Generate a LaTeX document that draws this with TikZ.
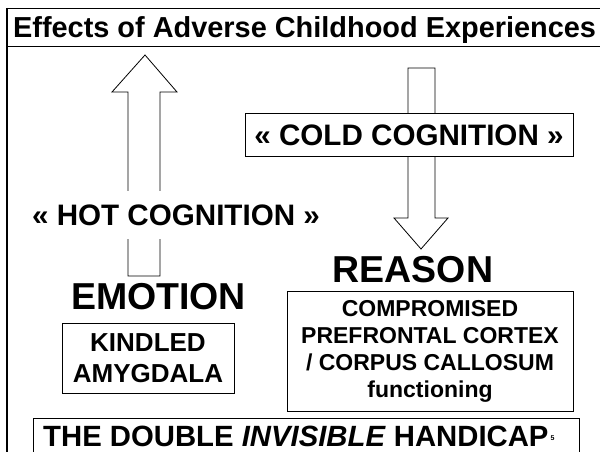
\documentclass[tikz,border=0pt]{standalone}
\usepackage{fontspec}
\setmainfont{Liberation Sans}
\begin{document}
\begin{tikzpicture}[x=1pt, y=-1pt,
  box/.style={draw, line width=0.9pt, fill=white, align=center, inner sep=0pt},
  bigword/.style={font=\bfseries\fontsize{37.5}{40}\selectfont, text height=26.8pt, text depth=0pt, inner sep=0pt},
  cogword/.style={font=\bfseries\fontsize{29.6}{32}\selectfont, text height=21.2pt, text depth=0pt},
  blockarrow/.style={draw, line width=0.8pt, fill=white}]
\useasboundingbox (0,0) rectangle (600,452);

% Title bar and left frame line
\node[draw, line width=1.2pt, anchor=north west, minimum width=594pt, minimum height=38pt, inner sep=0pt,
  font=\bfseries\fontsize{28.9}{30}\selectfont, text height=20.7pt, text depth=0pt] (title) at (7,8)
  {Effects of Adverse Childhood Experiences};
\draw[line width=2.2pt] (title.north west) -- (7,460);

% Block arrows (drawn first, the labels sit on top of them)
\draw[blockarrow] (128,276) -- (128,92) -- (112,92) -- (145,55) -- (177,92) -- (160,92) -- (160,276) -- cycle;
\draw[blockarrow] (408,68) -- (435,68) -- (435,218) -- (448,218) -- (421,249) -- (394,218) -- (408,218) -- cycle;

% Cognition labels
\node[cogword, fill=white, inner xsep=2pt, inner ysep=13pt] (hot) at (176,215) {« HOT COGNITION »};
\node[box, cogword, minimum width=328pt, minimum height=43pt] (cold) at (409,134.5) {« COLD COGNITION »};

% Emotion side
\node[bigword] (emotion) at (158.5,296.5) {EMOTION};
\node[box, minimum width=172pt, minimum height=70pt, font=\bfseries\fontsize{26}{31}\selectfont] (amygdala) at (148,358)
  {KINDLED\\AMYGDALA};

% Reason side
\node[bigword] (reason) at (413,269.5) {REASON};
\node[box, minimum width=286pt, minimum height=120pt, font=\bfseries\fontsize{23}{27}\selectfont] (cortex) at (430,351)
  {COMPROMISED\\PREFRONTAL CORTEX\\/ CORPUS CALLOSUM\\functioning};

% Bottom banner (runs off the page)
\node[anchor=base west, inner sep=0pt, font=\bfseries\fontsize{29.3}{31}\selectfont] (handicap) at (43,446.5)
  {THE DOUBLE \textit{INVISIBLE} HANDICAP\hspace{2pt}{\fontsize{7}{7}\selectfont\raisebox{6pt}{5}}};
\draw[line width=0.9pt] (33,460) |- (579,418) -- (579,460);
\end{tikzpicture}
\end{document}
